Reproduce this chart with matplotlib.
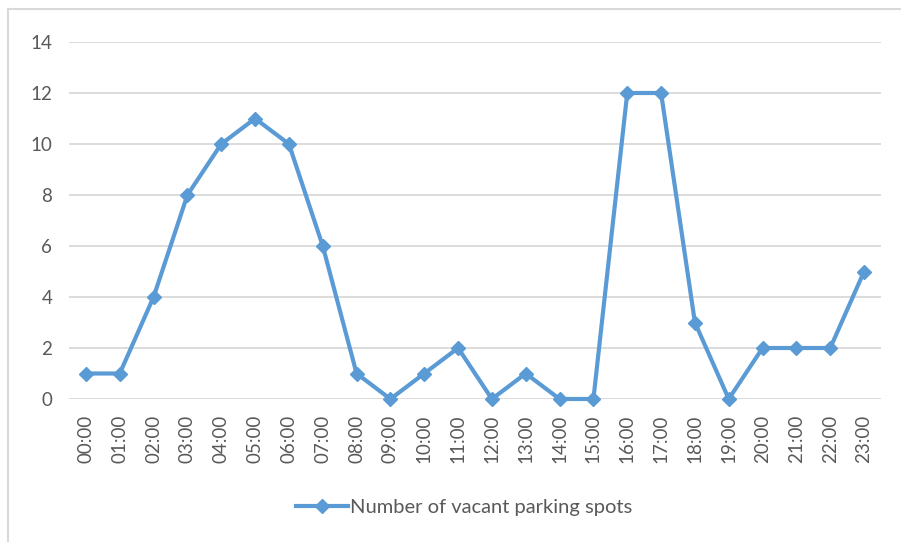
import matplotlib
matplotlib.use("Agg")
import matplotlib.pyplot as plt
from matplotlib.lines import Line2D

hours = ["00:00", "01:00", "02:00", "03:00", "04:00", "05:00", "06:00", "07:00",
         "08:00", "09:00", "10:00", "11:00", "12:00", "13:00", "14:00", "15:00",
         "16:00", "17:00", "18:00", "19:00", "20:00", "21:00", "22:00", "23:00"]
vacant = [1, 1, 4, 8, 10, 11, 10, 6, 1, 0, 1, 2, 0, 1, 0, 0, 12, 12, 3, 0, 2, 2, 2, 5]
series_name = "Number of vacant parking spots"
yticks = [0, 2, 4, 6, 8, 10, 12, 14]

plt.rcParams['font.family'] = ['Lato', 'DejaVu Sans']
W, H = 901, 542
fig = plt.figure(figsize=(W / 100, H / 100), dpi=100)
ax = fig.add_axes([69 / W, 1 - 399 / H, (881 - 69) / W, (399 - 42) / H])

x = list(range(len(hours)))
line, = ax.plot(x, vacant, color="#5B9BD5", lw=3.0, marker="D", ms=7,
                markeredgecolor="#5B9BD5", markerfacecolor="#5B9BD5",
                solid_joinstyle="round", label=series_name, clip_on=False, zorder=3)

ax.set_xlim(-0.5, len(hours) - 0.5)
ax.set_ylim(0, 14)
ax.set_yticks(yticks)
ax.set_xticks(x)
ax.set_xticklabels(hours, rotation=90)
for s in ax.spines.values():
    s.set_visible(False)
ax.grid(axis="y", color="#d9d9d9", lw=1.3)
ax.set_axisbelow(True)
ax.tick_params(axis="both", length=0, colors="#595959", labelsize=13.5)
ax.tick_params(axis="y", pad=12)
ax.tick_params(axis="x", pad=11)

leg = fig.legend(handles=[line], loc="center", bbox_to_anchor=(464 / W, 1 - 507 / H),
                 frameon=False, fontsize=14.5, handlelength=2.6, handletextpad=0.1,
                 labelcolor="#595959")

fig.add_artist(Line2D([8 / W, 1], [1 - 9 / H, 1 - 9 / H], color="#d9d9d9", lw=1.5,
                      transform=fig.transFigure))
fig.add_artist(Line2D([8 / W, 8 / W], [0, 1 - 9 / H], color="#d9d9d9", lw=1.5,
                      transform=fig.transFigure))

fig.savefig("out.png", dpi=100)
